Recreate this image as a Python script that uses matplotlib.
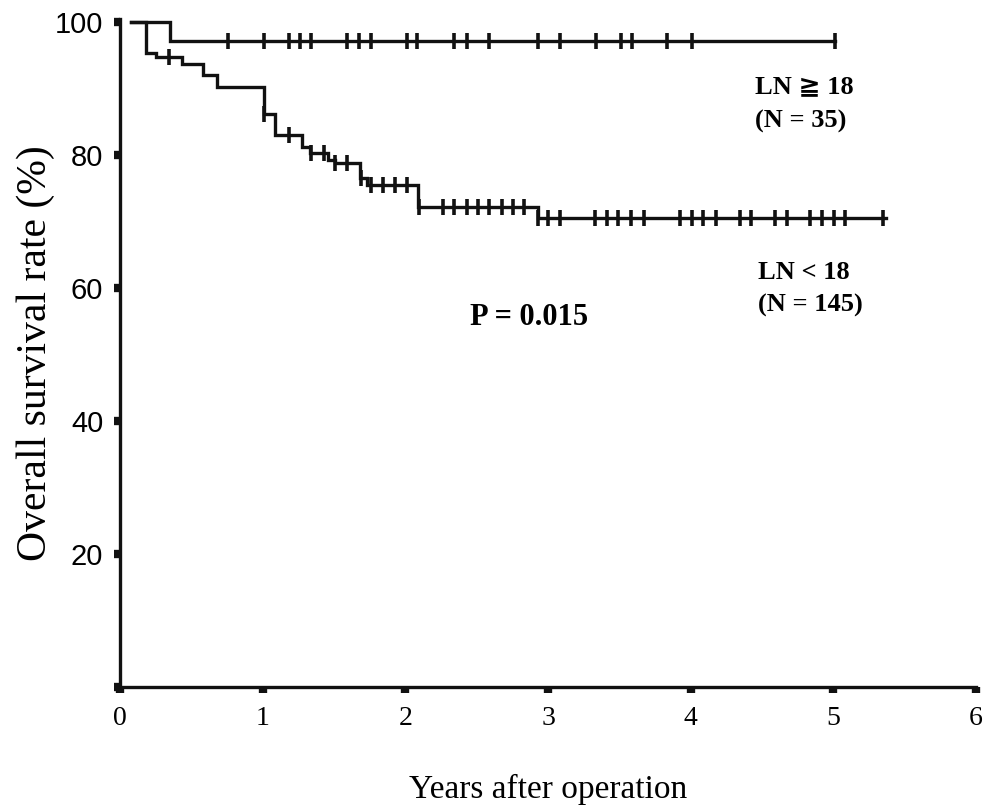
import numpy as np
import matplotlib
matplotlib.use("Agg")
from matplotlib import pyplot as plt

# LN >= 18 group (N = 35)
hi_times = [0.08, 0.35]
hi_surv = [100, 97.1]
hi_end = 5.01
hi_cens = [0.757, 1.009, 1.184, 1.261, 1.339, 1.591, 1.675, 1.759, 2.011, 2.081,
           2.341, 2.432, 2.586, 2.929, 3.083, 3.336, 3.511, 3.588, 3.833, 4.008, 5.01]

# LN < 18 group (N = 145)
lo_times = [0.08, 0.182, 0.252, 0.434, 0.582, 0.680, 1.009, 1.086, 1.275, 1.331,
            1.458, 1.507, 1.682, 1.731, 2.088, 2.929]
lo_surv = [100, 95.3, 94.7, 93.7, 92.0, 90.2, 86.2, 83.0, 81.2, 80.3,
           79.2, 78.8, 76.5, 75.5, 72.2, 70.5]
lo_end = 5.37
lo_cens = [0.343, 1.009, 1.184, 1.338, 1.430, 1.507, 1.591, 1.69, 1.759, 1.843,
           1.927, 2.011, 2.095, 2.263, 2.341, 2.432, 2.509, 2.586, 2.677, 2.754,
           2.831, 2.929, 2.999, 3.083, 3.329, 3.413, 3.490, 3.581, 3.672, 3.924,
           4.008, 4.086, 4.177, 4.345, 4.422, 4.590, 4.674, 4.835, 4.919, 5.003,
           5.081, 5.347]

xticks = [0, 1, 2, 3, 4, 5, 6]
yticks = [0, 20, 40, 60, 80, 100]
ytick_labels = ["", "20", "40", "60", "80", "100"]

serif = ["Liberation Serif", "DejaVu Serif", "DejaVu Sans", "Noto Sans CJK JP"]


def km(ax, times, surv, end, cens):
    t = np.array(times + [end])
    s = np.array(surv + [surv[-1]])
    ax.step(t, s, where="post", color="#111111", lw=2.4, solid_joinstyle="miter")
    idx = np.searchsorted(times, cens, side="right") - 1
    cs = np.array(surv)[idx]
    ax.plot(cens, cs, ls="none", marker="|", ms=12, mew=2.6, color="#111111")


fig = plt.figure(figsize=(9.96, 8.10), dpi=100)
ax = fig.add_axes([0.1205, 0.152, 0.8595, 0.825])

km(ax, hi_times, hi_surv, hi_end, hi_cens)
km(ax, lo_times, lo_surv, lo_end, lo_cens)

ax.set_xlim(0, 6)
ax.set_ylim(0, 100.5)
for s in ["top", "right"]:
    ax.spines[s].set_visible(False)
for s in ["left", "bottom"]:
    ax.spines[s].set_linewidth(2.4)
    ax.spines[s].set_color("#111111")

ax.set_xticks(xticks)
ax.set_xticklabels([str(v) for v in xticks], fontfamily=serif, fontsize=20)
ax.set_yticks(yticks)
ax.set_yticklabels(ytick_labels, fontfamily="Liberation Sans", fontsize=21)
ax.tick_params(axis="x", direction="out", length=4, width=6, pad=10, color="#111111")
ax.tick_params(axis="y", direction="out", length=4, width=6, pad=8, color="#111111")

ax.set_xlabel("Years after operation", fontfamily=serif, fontsize=24, labelpad=31)
ax.set_ylabel("Overall survival rate (%)", fontfamily=serif, fontsize=30, labelpad=0)

ax.text(4.45, 90.2, "LN \u2267 18", fontfamily=serif, fontweight="bold", fontsize=19,
        ha="left", va="center")
ax.text(4.45, 85.1, "(N = 35)", fontfamily=serif, fontweight="bold", fontsize=19,
        ha="left", va="center")
ax.text(4.47, 62.3, "LN < 18", fontfamily=serif, fontweight="bold", fontsize=19,
        ha="left", va="center")
ax.text(4.47, 57.4, "(N = 145)", fontfamily=serif, fontweight="bold", fontsize=19,
        ha="left", va="center")
ax.text(2.45, 55.6, "P = 0.015", fontfamily=serif, fontweight="bold", fontsize=22,
        ha="left", va="center")

fig.savefig("out.png", dpi=100)
